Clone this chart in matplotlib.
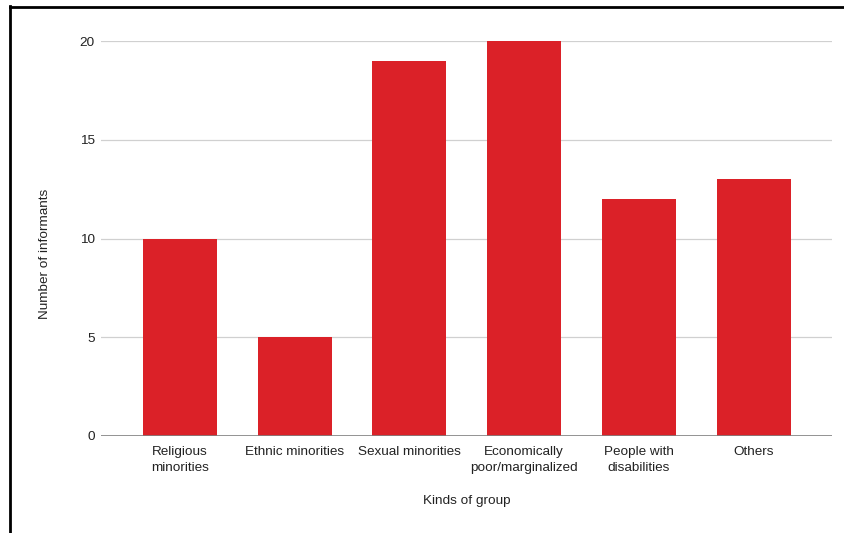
import matplotlib
matplotlib.use("Agg")
import matplotlib.pyplot as plt
from matplotlib.lines import Line2D

categories = ["Religious\nminorities", "Ethnic minorities", "Sexual minorities",
              "Economically\npoor/marginalized", "People with\ndisabilities", "Others"]
counts = [10, 5, 19, 20, 12, 13]
y_ticks = [0, 5, 10, 15, 20]

W, H = 845, 533
fig = plt.figure(figsize=(W / 100, H / 100), dpi=100)
plt.rcParams["font.family"] = ["Liberation Sans", "DejaVu Sans"]
fs = 9.7
txt = "#222222"

# axes placement in pixel coordinates
x0, x1 = 101, 832
y0, y1 = 436, 41  # y=0 and y=20 positions (from top)
ax = fig.add_axes([x0 / W, 1 - y0 / H, (x1 - x0) / W, (y0 - y1) / H])

bar_color = "#DB2128"
xs = list(range(len(counts)))
ax.bar(xs, counts, width=0.645, color=bar_color, zorder=3)

ax.set_xlim(-0.689, 5.684)
ax.set_ylim(0, 20)
ax.set_yticks(y_ticks)
ax.set_yticklabels([str(t) for t in y_ticks], fontsize=fs, color=txt)
ax.set_xticks(xs)
ax.set_xticklabels(categories, fontsize=fs, color=txt, linespacing=1.35)
ax.tick_params(axis="both", length=0)
ax.tick_params(axis="y", pad=4.5)
ax.tick_params(axis="x", pad=7.5)

for t in y_ticks[1:]:
    ax.axhline(t, color="#D0D0D0", linewidth=0.9, zorder=1)
ax.axhline(0, color="#808080", linewidth=1.2, zorder=4)
for s in ax.spines.values():
    s.set_visible(False)

fig.text(45 / W, 1 - 254 / H, "Number of informants", rotation=90,
         ha="center", va="center", fontsize=fs, color=txt)
fig.text(467 / W, 1 - 501 / H, "Kinds of group", ha="center", va="center",
         fontsize=fs, color=txt)

# frame lines at top and left
fig.add_artist(Line2D([10 / W, 1], [1 - 6.5 / H, 1 - 6.5 / H], color="black",
                      linewidth=2, transform=fig.transFigure))
fig.add_artist(Line2D([10.5 / W, 10.5 / W], [0, 1 - 6 / H], color="black",
                      linewidth=2, transform=fig.transFigure))

fig.savefig("out.png", dpi=100)
